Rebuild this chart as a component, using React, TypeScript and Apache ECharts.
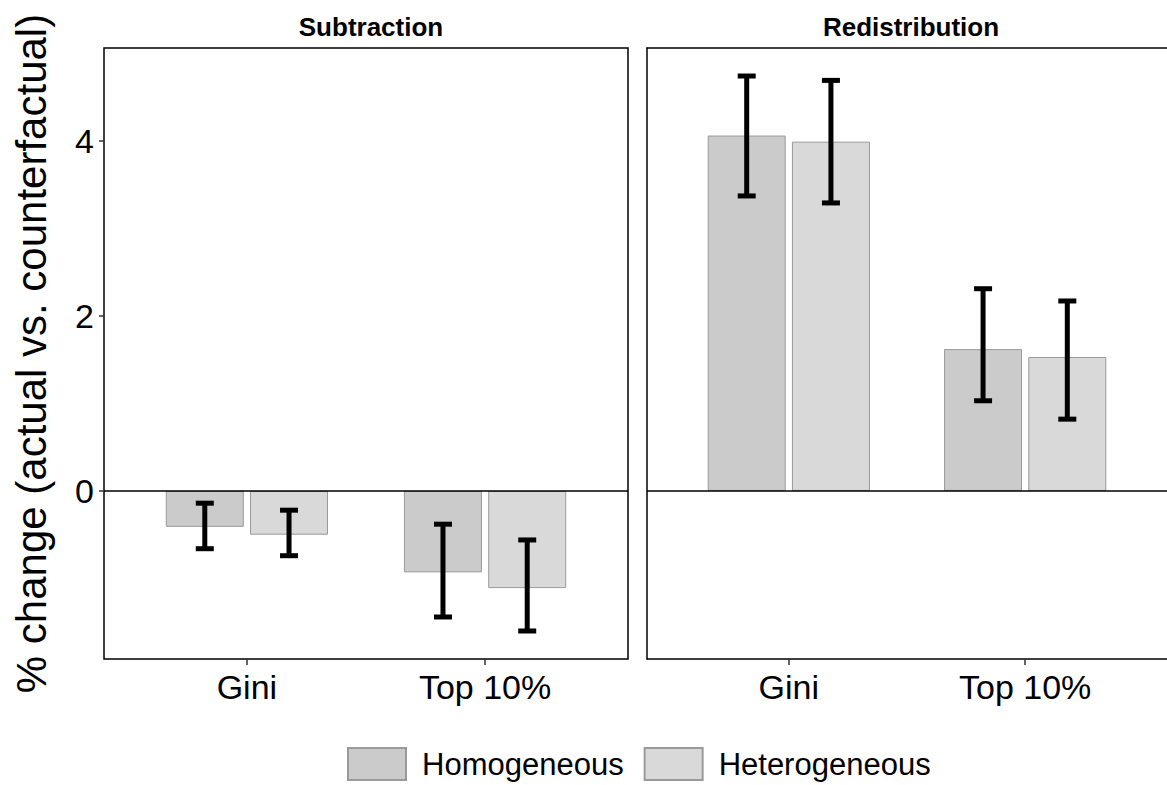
import React, { useEffect, useRef } from "react";
import * as echarts from "echarts";

const panels = ["Subtraction", "Redistribution"];
const categories = ["Gini", "Top 10%"];
const seriesNames = ["Homogeneous", "Heterogeneous"];

// Subtraction panel
const subHom = [-0.41, -0.93];
const subHet = [-0.5, -1.11];
const subHomLow = [-0.66, -1.44];
const subHomHigh = [-0.14, -0.38];
const subHetLow = [-0.74, -1.6];
const subHetHigh = [-0.22, -0.56];

// Redistribution panel
const redHom = [4.06, 1.62];
const redHet = [3.99, 1.53];
const redHomLow = [3.37, 1.03];
const redHomHigh = [4.74, 2.31];
const redHetLow = [3.29, 0.82];
const redHetHigh = [4.69, 2.17];

const yTicks = [0, 2, 4];
const yMin = -1.92;
const yMax = 5.06;

const FONT = "Liberation Sans, Arial, Helvetica, sans-serif";
const BAR_W = 78;
const BAR_GAP = 0.08;
const colors = ["#cbcbcb", "#d9d9d9"];
const frameLine = { color: "#000", width: 1.5 };

export default function App() {
  const ref = useRef<HTMLDivElement>(null);
  useEffect(() => {
    if (!ref.current) return;
    const chart = echarts.init(ref.current, undefined, { renderer: "svg" });

    const panelData = [
      { hom: subHom, het: subHet, err: [[subHomLow, subHomHigh], [subHetLow, subHetHigh]] },
      { hom: redHom, het: redHet, err: [[redHomLow, redHomHigh], [redHetLow, redHetHigh]] },
    ];

    const series: any[] = [];
    panelData.forEach((p, gi) => {
      [p.hom, p.het].forEach((vals, si) => {
        const s: any = {
          type: "bar",
          name: seriesNames[si],
          xAxisIndex: gi,
          yAxisIndex: gi,
          barWidth: BAR_W,
          barGap: BAR_GAP * 100 + "%",
          data: vals.map((v, i) => [i + 1, v]),
          itemStyle: { color: colors[si], borderColor: "#9a9a9a", borderWidth: 1 },
          silent: true,
        };
        if (si === 0) {
          s.markLine = {
            silent: true,
            symbol: "none",
            label: { show: false },
            lineStyle: { color: "#000", width: 1.5, type: "solid" },
            data: [{ yAxis: 0 }],
          };
        }
        series.push(s);
      });
      p.err.forEach(([lows, highs], si) => {
        const offset = (si === 0 ? -1 : 1) * (BAR_W * (1 + BAR_GAP)) / 2;
        series.push({
          type: "custom",
          name: "err" + gi + si,
          xAxisIndex: gi,
          yAxisIndex: gi,
          silent: true,
          z: 5,
          encode: { x: 0, y: [1, 2] },
          data: lows.map((l, i) => [i + 1, l, highs[i]]),
          renderItem: (params: any, api: any) => {
            const x = api.value(0);
            const lo = api.coord([x, api.value(1)]);
            const hi = api.coord([x, api.value(2)]);
            const cx = lo[0] + offset;
            const cap = 9;
            const st = { stroke: "#000", lineWidth: 5 };
            return {
              type: "group",
              children: [
                { type: "line", shape: { x1: cx, y1: lo[1], x2: cx, y2: hi[1] }, style: st },
                { type: "line", shape: { x1: cx - cap, y1: lo[1], x2: cx + cap, y2: lo[1] }, style: st },
                { type: "line", shape: { x1: cx - cap, y1: hi[1], x2: cx + cap, y2: hi[1] }, style: st },
              ],
            };
          },
        });
      });
    });

    const grids = [
      { left: 104, top: 48, width: 524, height: 611 },
      { left: 647, top: 48, width: 528, height: 611 },
    ];

    const xAxes: any[] = grids.map((_, i) => ({
      type: "value",
      gridIndex: i,
      position: "bottom",
      min: 0.4,
      max: 2.6,
      splitLine: { show: false },
      axisLine: { show: i === 1, onZero: false, lineStyle: frameLine },
      axisTick: { show: true, length: 6, customValues: [1, 2], lineStyle: { color: "#333", width: 1.5 } },
      axisLabel: {
        customValues: [1, 2],
        formatter: (v: number) => categories[Math.round(v) - 1],
        fontSize: 34,
        color: "#000",
        margin: 11,
        fontFamily: FONT,
      },
    }));
    // top frame line of the right panel (its right side runs off the page)
    xAxes.push({
      type: "value",
      gridIndex: 1,
      position: "top",
      min: 0.4,
      max: 2.6,
      splitLine: { show: false },
      axisLine: { show: true, onZero: false, lineStyle: frameLine },
      axisTick: { show: false },
      axisLabel: { show: false },
    });

    const option: any = {
      animation: false,
      textStyle: { fontFamily: FONT },
      title: panels.map((t, i) => ({
        text: t,
        left: grids[i].left + (i === 0 ? 262 : 259),
        top: 9,
        textAlign: "center",
        textStyle: { fontFamily: FONT, fontSize: 26, fontWeight: "bold", color: "#000" },
      })),
      grid: grids.map((g, i) => ({
        ...g,
        show: i === 0,
        borderColor: "#000",
        borderWidth: 1.5,
        backgroundColor: "transparent",
      })),
      legend: {
        data: seriesNames.map((n) => ({ name: n, icon: "rect" })),
        left: 347,
        top: 747,
        padding: 0,
        itemWidth: 58,
        itemHeight: 32,
        itemGap: 20,
        selectedMode: false,
        textStyle: { fontFamily: FONT, fontSize: 31, color: "#000", padding: [3, 0, 0, 11] },
      },
      xAxis: xAxes,
      yAxis: grids.map((_, i) => ({
        type: "value",
        gridIndex: i,
        min: yMin,
        max: yMax,
        splitLine: { show: false },
        axisLine: { show: i === 1, onZero: false, lineStyle: frameLine },
        axisTick: { show: i === 0, length: 5, customValues: yTicks, lineStyle: { color: "#333", width: 1.5 } },
        axisLabel: {
          show: i === 0,
          customValues: yTicks,
          fontSize: 34,
          color: "#000",
          margin: 10,
          fontFamily: FONT,
        },
        name: i === 0 ? "% change (actual vs. counterfactual)" : "",
        nameLocation: "middle",
        nameGap: 52,
        nameTextStyle: { fontSize: 42, color: "#000", fontFamily: FONT },
      })),
      series,
    };

    chart.setOption(option);
    return () => chart.dispose();
  }, []);

  return (
    <div
      ref={ref}
      style={{ position: "fixed", left: 0, top: 0, width: 1167, height: 785, background: "#fff" }}
    />
  );
}
